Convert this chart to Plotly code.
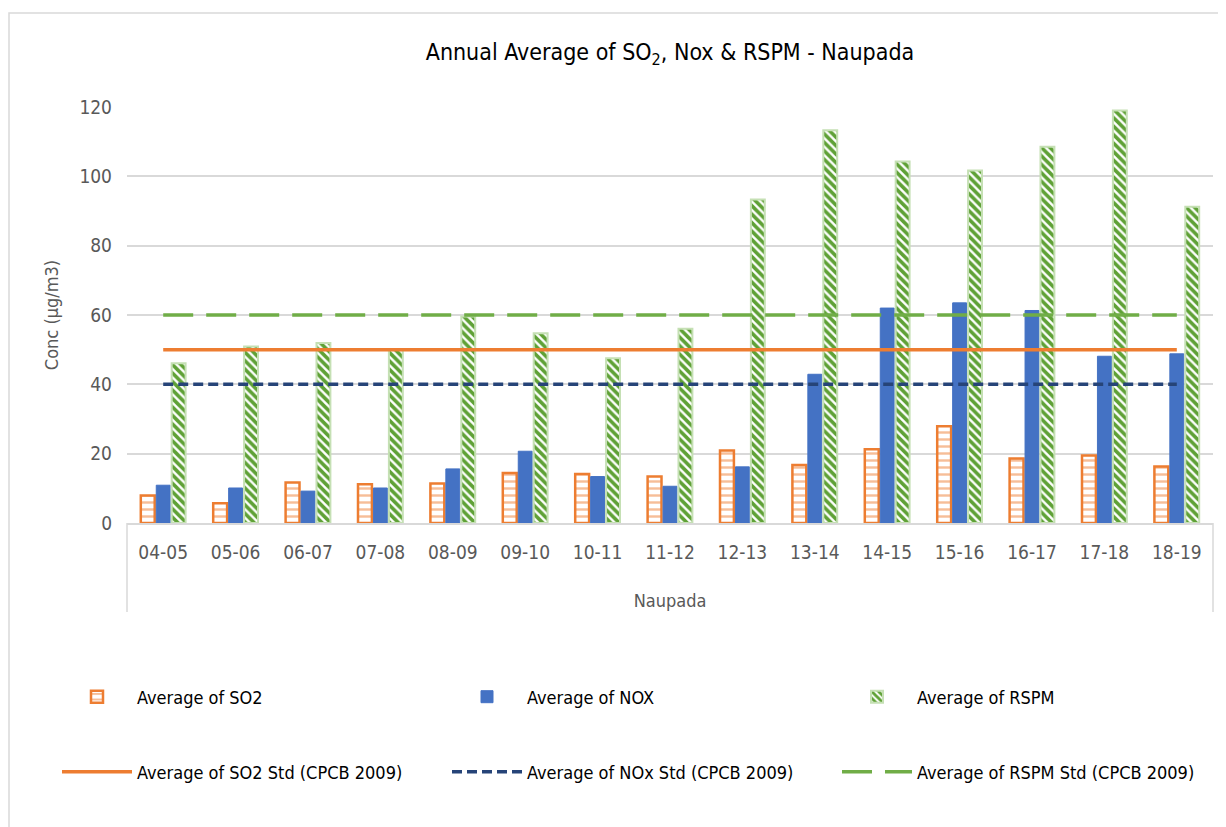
import plotly.graph_objects as go

# ---- data ----
categories = ["04-05", "05-06", "06-07", "07-08", "08-09", "09-10", "10-11", "11-12",
              "12-13", "13-14", "14-15", "15-16", "16-17", "17-18", "18-19"]
so2 = [7.9, 5.7, 11.7, 11.2, 11.4, 14.4, 14.1, 13.4, 20.9, 16.7, 21.3, 27.9, 18.6, 19.5, 16.3]
nox = [10.9, 10.1, 9.2, 10.1, 15.6, 20.7, 13.4, 10.6, 16.2, 42.9, 62.0, 63.5, 61.3, 48.1, 48.8]
rspm = [46.1, 50.9, 51.9, 49.9, 59.6, 54.7, 47.5, 56.0, 93.3, 113.3, 104.3, 101.7, 108.5, 119.0, 91.2]
so2_std = [50] * 15
nox_std = [40] * 15
rspm_std = [60] * 15
y_ticks = [0, 20, 40, 60, 80, 100, 120]

FONT = "Liberation Sans Narrow, Arial Narrow, DejaVu Sans Condensed, sans-serif"
GRAY = "#595959"
GRID = "#D9D9D9"

fig = go.Figure()
fig.add_trace(go.Bar(
    x=categories, y=so2, name="Average of SO2", legend="legend",
    marker=dict(color="white", line=dict(color="#ED7D31", width=2.5),
                pattern=dict(shape="-", fgcolor="#ED7D31", bgcolor="white", size=7, solidity=0.35)),
))
fig.add_trace(go.Bar(
    x=categories, y=nox, name="Average of NOX", legend="legend",
    marker=dict(color="#4472C4", line=dict(color="#4472C4", width=1)),
))
fig.add_trace(go.Bar(
    x=categories, y=rspm, name="Average of RSPM", legend="legend",
    marker=dict(color="white", line=dict(color="#C5E0B4", width=2),
                pattern=dict(shape="\\", fgcolor="#5FA136", bgcolor="white", size=6, solidity=0.6,
                             fgopacity=1)),
))
fig.add_trace(go.Scatter(
    x=categories, y=so2_std, name="Average of SO2 Std (CPCB 2009)", legend="legend2",
    mode="lines", line=dict(color="#ED7D31", width=3.5),
))
fig.add_trace(go.Scatter(
    x=categories, y=nox_std, name="Average of NOx Std (CPCB 2009)", legend="legend2",
    mode="lines", line=dict(color="#264478", width=3.5, dash="10px,5px"),
))
fig.add_trace(go.Scatter(
    x=categories, y=rspm_std, name="Average of RSPM Std (CPCB 2009)", legend="legend2",
    mode="lines", line=dict(color="#70AD47", width=3.5, dash="30px,13px"),
))

OFF = 8  # page body margin
W, H = 1226 - OFF, 827 - OFF
L, T = 127 - OFF, 107 - OFF
R = W - (1213 - OFF)
B = H - (523 - OFF)
pw = W - L - R
ph = H - T - B

def px_x(px):
    return (px - OFF - L) / pw

def px_y(py):
    return 1 - (py - OFF - T) / ph

shapes = [
    # chart border
    dict(type="rect", xref="paper", yref="paper",
         x0=px_x(9), x1=px_x(1240), y0=px_y(840), y1=px_y(13),
         line=dict(color=GRID, width=1.5), fillcolor="rgba(0,0,0,0)", layer="below"),
    # category group dividers
    dict(type="line", xref="paper", yref="paper", x0=0, x1=0, y0=0, y1=px_y(612),
         line=dict(color=GRID, width=1.5)),
    dict(type="line", xref="paper", yref="paper", x0=1, x1=1, y0=0, y1=px_y(612),
         line=dict(color=GRID, width=1.5)),
]

fig.update_layout(
    width=W, height=H,
    margin=dict(l=L, r=R, t=T, b=B, autoexpand=False),
    paper_bgcolor="white", plot_bgcolor="white",
    font=dict(family=FONT, color=GRAY, size=18),
    title=dict(text="Annual Average of SO<sub>2</sub>, Nox & RSPM - Naupada",
               x=0.5, xref="paper", y=1 - (52 - OFF) / H, yanchor="middle",
               font=dict(family=FONT, size=23, color="#000000")),
    barmode="group", bargap=0.36, bargroupgap=0.1,
    xaxis=dict(type="category", showgrid=False, showline=True, linecolor=GRID, linewidth=1.5,
               ticks="", tickfont=dict(size=19, color=GRAY), ticklabelstandoff=11,
               title=dict(text="Naupada", font=dict(size=18, color=GRAY), standoff=33),
               automargin=False),
    yaxis=dict(range=[0, 120], tickvals=y_ticks, showgrid=True, gridcolor=GRID, gridwidth=1.5,
               zeroline=False, showline=False, ticks="", ticklabelstandoff=14,
               tickfont=dict(size=19, color=GRAY),
               title=dict(text="Conc (µg/m3)", font=dict(size=18, color=GRAY), standoff=16),
               automargin=False),
    legend=dict(orientation="h", x=px_x(57), xanchor="left", y=px_y(697), yanchor="middle",
                entrywidth=305, entrywidthmode="pixels", itemwidth=70,
                font=dict(size=18, color="#000000"), bgcolor="rgba(0,0,0,0)"),
    legend2=dict(orientation="h", x=px_x(57), xanchor="left", y=px_y(772), yanchor="middle",
                 entrywidth=305, entrywidthmode="pixels", itemwidth=70,
                 font=dict(size=18, color="#000000"), bgcolor="rgba(0,0,0,0)"),
    shapes=shapes,
)

fig.write_html("out.html")
